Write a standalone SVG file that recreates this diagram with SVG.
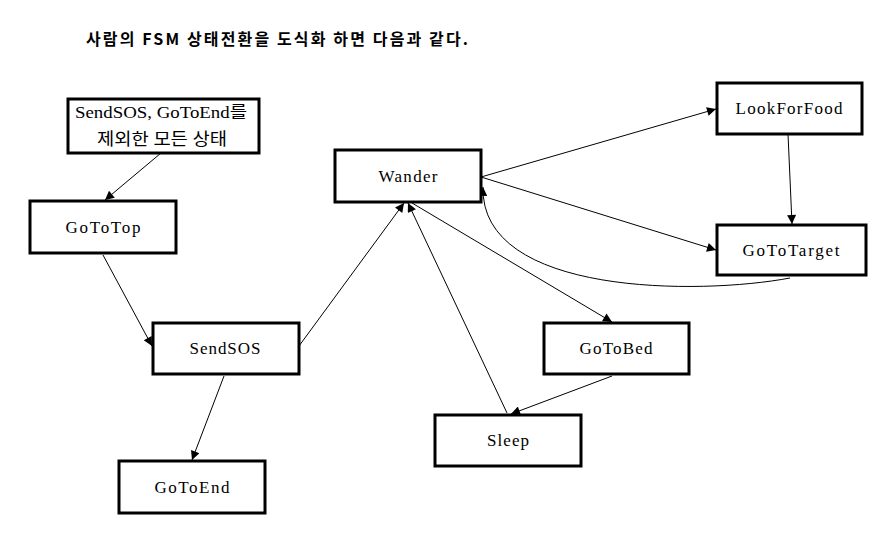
<svg xmlns="http://www.w3.org/2000/svg" width="896" height="542" viewBox="0 0 896 542">
<style>
.box{fill:#fff;stroke:#000;stroke-width:3}
.lbl{font-family:"Liberation Serif","Noto Sans CJK KR",serif;font-size:17px;fill:#000;text-anchor:middle}
.edge{fill:none;stroke:#000;stroke-width:1;marker-end:url(#ah)}
.title{font-family:"Noto Sans CJK KR","Noto Sans",sans-serif;font-size:16px;font-weight:bold;fill:#000}
</style>
<defs>
<marker id="ah" viewBox="0 0 10 10" refX="10" refY="5" markerWidth="11" markerHeight="9" markerUnits="userSpaceOnUse" orient="auto">
<path d="M0,0 L10,5 L0,10 Z" fill="#000"/>
</marker>
</defs>
<rect width="896" height="542" fill="#fff"/>
<text class="title" x="86" y="45" textLength="382" lengthAdjust="spacing">사람의 FSM 상태전환을 도식화 하면 다음과 같다.</text>
<g id="connectors">
<line class="edge" x1="161" y1="153" x2="105" y2="200"/>
<line class="edge" x1="103" y1="255" x2="152" y2="346"/>
<line class="edge" x1="224" y1="376" x2="192" y2="460"/>
<line class="edge" x1="299" y1="346" x2="404" y2="203"/>
<line class="edge" x1="507" y1="413" x2="408" y2="203"/>
<line class="edge" x1="412" y1="203" x2="612" y2="322"/>
<line class="edge" x1="612" y1="376" x2="511" y2="414"/>
<line class="edge" x1="481" y1="177" x2="716" y2="109"/>
<line class="edge" x1="481" y1="177" x2="716" y2="250"/>
<line class="edge" x1="788" y1="134" x2="792" y2="224"/>
<path class="edge" d="M790,278 C700,295 480,296 483,187"/>
</g>
<g id="node-all"><rect class="box" x="68" y="99" width="191" height="54"/><text class="lbl" x="161" y="118" textLength="172" lengthAdjust="spacingAndGlyphs">SendSOS, GoToEnd를</text><text class="lbl" x="162" y="145" textLength="130" lengthAdjust="spacingAndGlyphs">제외한 모든 상태</text></g>
<g id="node-gototop"><rect class="box" x="30" y="201" width="146" height="52"/><text class="lbl" x="103" y="233" textLength="75" lengthAdjust="spacing">GoToTop</text></g>
<g id="node-sendsos"><rect class="box" x="153" y="323" width="146" height="51"/><text class="lbl" x="225" y="354" textLength="71" lengthAdjust="spacing">SendSOS</text></g>
<g id="node-gotoend"><rect class="box" x="119" y="461" width="146" height="52"/><text class="lbl" x="192" y="493" textLength="75" lengthAdjust="spacing">GoToEnd</text></g>
<g id="node-wander"><rect class="box" x="335" y="150" width="146" height="52"/><text class="lbl" x="408" y="182" textLength="59" lengthAdjust="spacing">Wander</text></g>
<g id="node-lookforfood"><rect class="box" x="717" y="83" width="145" height="51"/><text class="lbl" x="789" y="114" textLength="107" lengthAdjust="spacing">LookForFood</text></g>
<g id="node-gototarget"><rect class="box" x="717" y="225" width="149" height="50"/><text class="lbl" x="791" y="256" textLength="97" lengthAdjust="spacing">GoToTarget</text></g>
<g id="node-gotobed"><rect class="box" x="544" y="323" width="145" height="51"/><text class="lbl" x="616" y="354" textLength="73" lengthAdjust="spacing">GoToBed</text></g>
<g id="node-sleep"><rect class="box" x="435" y="415" width="146" height="51"/><text class="lbl" x="508" y="446" textLength="42" lengthAdjust="spacing">Sleep</text></g>
</svg>
